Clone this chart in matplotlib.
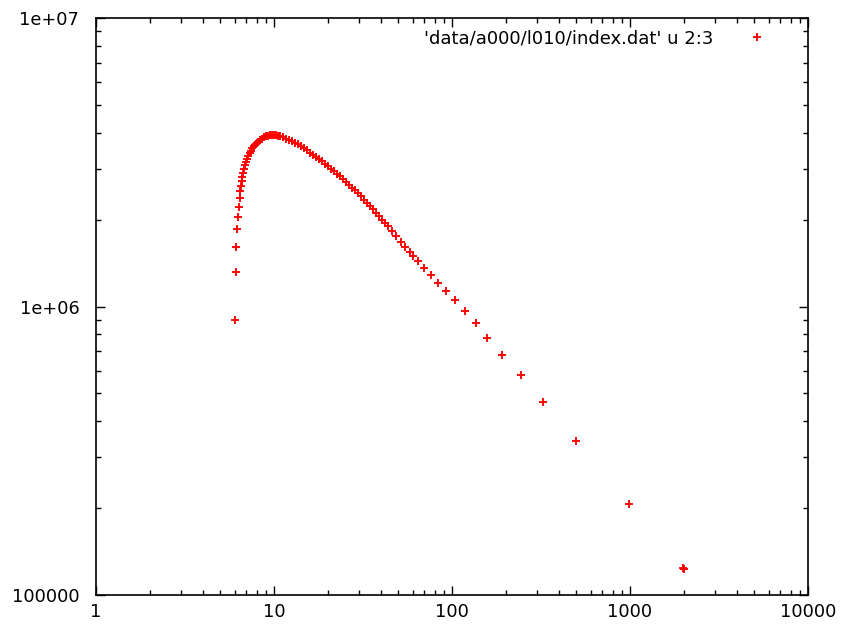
import matplotlib
matplotlib.use("Agg")
import matplotlib.pyplot as plt
from matplotlib.ticker import FixedLocator, FixedFormatter, LogLocator, NullFormatter

# values (column 2 vs column 3 of index.dat)
x_vals = [6.04, 6.09, 6.13, 6.22, 6.30, 6.34, 6.40, 6.44, 6.50, 6.57,
          6.64, 6.70, 6.78, 6.87, 6.96, 7.05, 7.17, 7.29, 7.43, 7.57,
          7.72, 7.92, 8.13, 8.34, 8.56, 8.79, 9.02, 9.25, 9.49, 9.74,
          10.0, 10.26, 10.53, 10.81, 11.24, 11.68, 12.14, 12.62, 13.12, 13.64,
          14.18, 14.74, 15.32, 15.93, 16.56, 17.22, 17.89, 18.61, 19.34, 20.11,
          20.90, 21.73, 22.59, 23.49, 24.42, 25.38, 26.39, 27.43, 28.52, 29.65,
          30.82, 32.04, 33.31, 34.63, 36.00, 37.41, 38.90, 40.43, 42.03, 43.70,
          46.02, 48.46, 51.50, 54.66, 58.08, 60.62, 64.67, 69.62, 76.21, 83.75,
          92.5, 104.4, 118.3, 135.9, 157.9, 190.9, 244.2, 325.8, 495.3, 991.0,
          1990.0, 2003.0]
y_vals = [898e3, 1.317e6, 1.608e6, 1.852e6, 2.043e6, 2.221e6, 2.377e6, 2.504e6, 2.606e6, 2.713e6,
          2.812e6, 2.903e6, 2.997e6, 3.082e6, 3.170e6, 3.246e6, 3.325e6, 3.396e6, 3.473e6, 3.543e6,
          3.600e6, 3.659e6, 3.717e6, 3.768e6, 3.813e6, 3.853e6, 3.884e6, 3.906e6, 3.921e6, 3.931e6,
          3.931e6, 3.925e6, 3.912e6, 3.893e6, 3.856e6, 3.822e6, 3.786e6, 3.744e6, 3.697e6, 3.649e6,
          3.600e6, 3.535e6, 3.476e6, 3.415e6, 3.356e6, 3.295e6, 3.235e6, 3.192e6, 3.128e6, 3.067e6,
          3.006e6, 2.947e6, 2.888e6, 2.829e6, 2.766e6, 2.703e6, 2.641e6, 2.583e6, 2.526e6, 2.468e6,
          2.412e6, 2.347e6, 2.286e6, 2.227e6, 2.169e6, 2.111e6, 2.055e6, 2.000e6, 1.946e6, 1.894e6,
          1.827e6, 1.760e6, 1.673e6, 1.608e6, 1.547e6, 1.502e6, 1.438e6, 1.365e6, 1.286e6, 1.209e6,
          1.134e6, 1.053e6, 967e3, 876.5e3, 780e3, 680.6e3, 578e3, 467e3, 342.6e3, 206.8e3,
          124.5e3, 123.2e3]

label = "'data/a000/l010/index.dat' u 2:3"
x_ticks = [1, 10, 100, 1000, 10000]
x_ticklabels = ["1", "10", "100", "1000", "10000"]
y_ticks = [1e5, 1e6, 1e7]
y_ticklabels = ["100000", "1e+06", "1e+07"]

fs = 12.8

fig = plt.figure(figsize=(8.41, 6.26), dpi=100)
ax = fig.add_axes([96 / 841, 1 - 595 / 626, 712 / 841, 577 / 626])

ax.plot(x_vals, y_vals, linestyle="none", marker="+", color="red",
        markersize=6.2, markeredgewidth=1.35, label=label)

ax.set_xscale("log")
ax.set_yscale("log")
ax.set_xlim(1, 10000)
ax.set_ylim(1e5, 1e7)

ax.xaxis.set_major_locator(FixedLocator(x_ticks))
ax.xaxis.set_major_formatter(FixedFormatter(x_ticklabels))
ax.yaxis.set_major_locator(FixedLocator(y_ticks))
ax.yaxis.set_major_formatter(FixedFormatter(y_ticklabels))
ax.xaxis.set_minor_locator(LogLocator(base=10, subs=range(2, 10), numticks=20))
ax.yaxis.set_minor_locator(LogLocator(base=10, subs=range(2, 10), numticks=20))
ax.xaxis.set_minor_formatter(NullFormatter())
ax.yaxis.set_minor_formatter(NullFormatter())

ax.tick_params(which="both", direction="in", top=True, right=True, colors="black",
               labelsize=fs, width=1.0)
ax.tick_params(which="major", length=6.5)
ax.tick_params(which="minor", length=3.6)
ax.tick_params(axis="x", which="major", pad=6)
ax.tick_params(axis="y", which="major", pad=12)

for s in ax.spines.values():
    s.set_linewidth(1.2)
    s.set_color("black")

ax.legend(loc="upper right", frameon=False, markerfirst=False, numpoints=1,
          fontsize=13, handlelength=4.42, handletextpad=0.23,
          borderpad=0.3, borderaxespad=0.31)

fig.savefig("out.png", dpi=100)
